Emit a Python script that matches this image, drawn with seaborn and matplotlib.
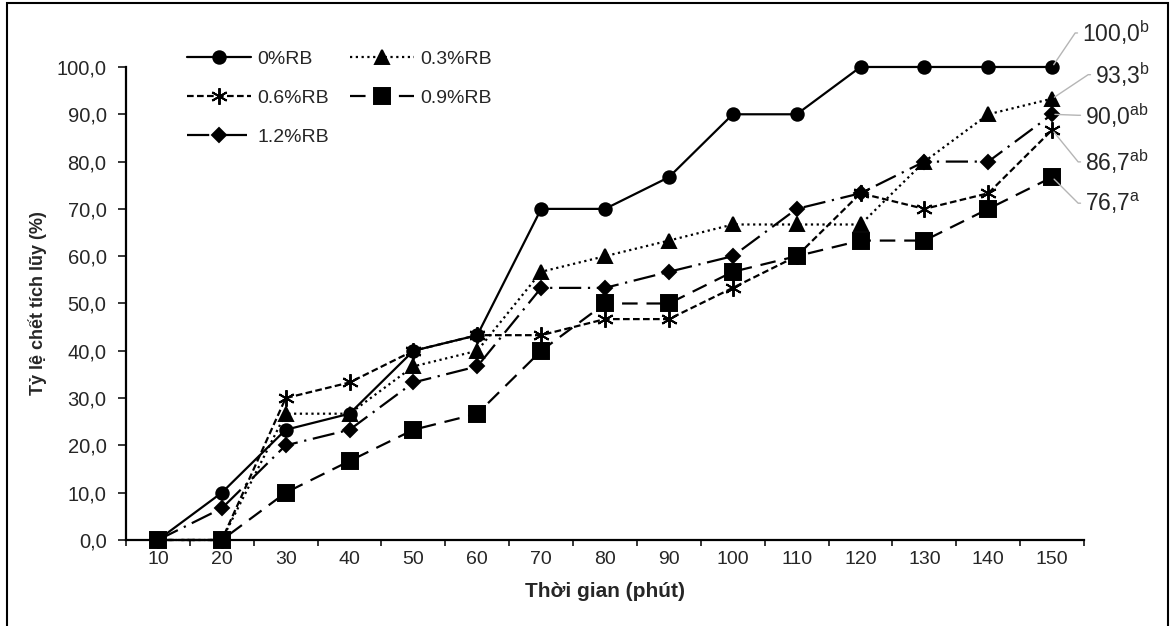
import matplotlib
matplotlib.use("Agg")
import matplotlib.pyplot as plt
import seaborn as sns
from matplotlib.patches import Rectangle
from matplotlib.ticker import FixedLocator, FuncFormatter

# Data (cumulative mortality, %)
minutes = [10, 20, 30, 40, 50, 60, 70, 80, 90, 100, 110, 120, 130, 140, 150]
rb_0 = [0, 10.0, 23.3, 26.7, 40.0, 43.3, 70.0, 70.0, 76.7, 90.0, 90.0, 100, 100, 100, 100]
rb_03 = [0, 0, 26.7, 26.7, 36.7, 40.0, 56.7, 60.0, 63.3, 66.7, 66.7, 66.7, 80.0, 90.0, 93.3]
rb_06 = [0, 0, 30.0, 33.3, 40.0, 43.3, 43.3, 46.7, 46.7, 53.3, 60.0, 73.3, 70.0, 73.3, 86.7]
rb_09 = [0, 0, 10.0, 16.7, 23.3, 26.7, 40.0, 50.0, 50.0, 56.7, 60.0, 63.3, 63.3, 70.0, 76.7]
rb_12 = [0, 6.7, 20.0, 23.3, 33.3, 36.7, 53.3, 53.3, 56.7, 60.0, 70.0, 73.3, 80.0, 80.0, 90.0]

series_names = ["0%RB", "0.3%RB", "0.6%RB", "0.9%RB", "1.2%RB"]
end_labels = ["100,0", "93,3", "90,0", "86,7", "76,7"]
end_letters = ["b", "b", "ab", "ab", "a"]

sns.set_style("ticks")
plt.rcParams["font.family"] = ["Liberation Sans", "DejaVu Sans"]
plt.rcParams["mathtext.fontset"] = "custom"
plt.rcParams["mathtext.rm"] = "Liberation Sans"

fig = plt.figure(figsize=(11.72, 6.26), dpi=100)
ax = fig.add_axes([0.1075, 0.1374, 0.8175, 0.7556])

styles = {
    "0%RB": dict(values=rb_0, marker="o", ms=9, ls="-"),
    "0.3%RB": dict(values=rb_03, marker="^", ms=10.5, ls=(0, (1, 1.6))),
    "0.6%RB": dict(values=rb_06, marker=(6, 2, 0), ms=12, ls=(0, (3, 1.5))),
    "0.9%RB": dict(values=rb_09, marker="s", ms=12, ls=(0, (7, 4))),
    "1.2%RB": dict(values=rb_12, marker="D", ms=7, ls=(0, (10, 3, 1, 3))),
}

for name in series_names:
    st = styles[name]
    sns.lineplot(x=minutes, y=st["values"], ax=ax, color="black", lw=1.6,
                 marker=st["marker"], markersize=st["ms"], markeredgewidth=1.4,
                 markeredgecolor="black", markerfacecolor="black",
                 linestyle=st["ls"], label=name, clip_on=False)

ax.set_xlim(5, 155)
ax.set_ylim(0, 100)

# category boundaries carry the tick marks, labels sit in between
ax.xaxis.set_major_locator(FixedLocator([m - 5 for m in minutes] + [155]))
ax.xaxis.set_minor_locator(FixedLocator(minutes))
ax.xaxis.set_major_formatter(FuncFormatter(lambda v, p: ""))
ax.xaxis.set_minor_formatter(FuncFormatter(lambda v, p: f"{v:.0f}"))
ax.tick_params(axis="x", which="major", length=4.5, width=1.3, direction="out")
ax.tick_params(axis="x", which="minor", length=0, labelsize=14, pad=8)

ax.set_yticks(range(0, 101, 10))
ax.yaxis.set_major_formatter(FuncFormatter(lambda v, p: f"{v:.1f}".replace(".", ",")))
ax.tick_params(axis="y", length=6, width=1.3, direction="out", labelsize=14.5, pad=8)

sns.despine(ax=ax)
for side in ["left", "bottom"]:
    ax.spines[side].set_linewidth(1.6)
    ax.spines[side].set_color("black")

ax.set_xlabel("Thời gian (phút)", fontsize=15, fontweight="bold", labelpad=10)
ax.set_ylabel("Tỷ lệ chết tích lũy (%)", fontsize=13, fontweight="bold", labelpad=7)

# legend laid out row by row
handles, labels = ax.get_legend_handles_labels()
order = [0, 2, 4, 1, 3]
ax.legend([handles[i] for i in order], [labels[i] for i in order], ncol=2,
          frameon=False, loc="upper left", bbox_to_anchor=(0.145, 0.948),
          bbox_transform=fig.transFigure, fontsize=14, handlelength=3.25,
          handletextpad=0.35, labelspacing=1.1, columnspacing=1.1,
          borderpad=0.4)

# end-point labels with grey leader lines
offsets = [(30, 34), (43, 24), (33, -1), (33, -32), (33, -26)]
end_vals = [rb_0[-1], rb_03[-1], rb_12[-1], rb_06[-1], rb_09[-1]]
for lab, let, val, off in zip(end_labels, end_letters, end_vals, offsets):
    ax.annotate(lab + r"$^{\mathrm{" + let + "}}$", xy=(minutes[-1], val),
                xytext=off, textcoords="offset pixels", ha="left", va="center",
                fontsize=16.5, annotation_clip=False,
                arrowprops=dict(arrowstyle="-", color="#b5b5b5", lw=1,
                                relpos=(0, 0.5), shrinkA=1, shrinkB=2,
                                connectionstyle="arc,angleA=180,armA=7,angleB=0,armB=0,rad=0"))

# outer frame of the figure
fig.patches.append(Rectangle((7 / 1172, -0.02), 1161 / 1172, 1.015, transform=fig.transFigure,
                             fill=False, lw=1.5, edgecolor="black"))

fig.savefig("out.png", dpi=100)
